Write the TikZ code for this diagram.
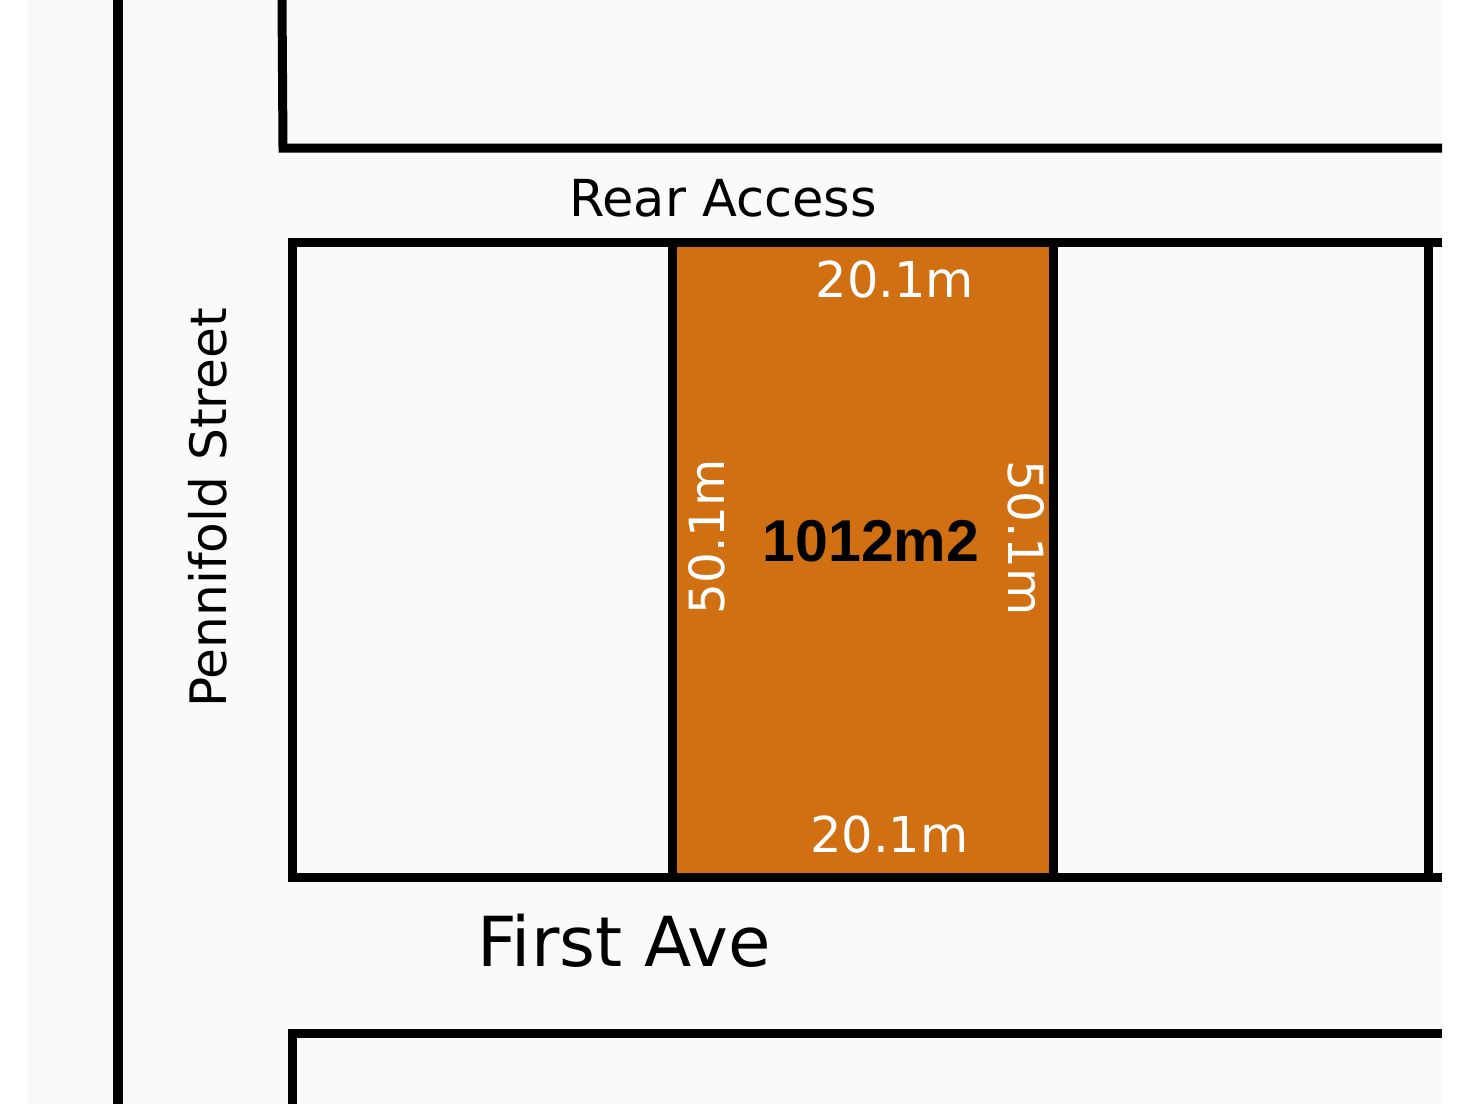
\documentclass[tikz,border=0pt]{standalone}
\usepackage{fontspec}
\newfontfamily\dv{DejaVu Sans}
\newfontfamily\lb{Liberation Sans}
\definecolor{plotorange}{RGB}{208,112,18}
\definecolor{paper}{RGB}{250,250,250}
\tikzset{
  wall/.style={line width=9pt, line join=miter, line cap=butt, black},
  street/.style={anchor=base, text=black, inner sep=0pt},
  dim/.style={anchor=base, text=white, inner sep=0pt, font=\dv\fontsize{49.5}{58}\selectfont},
}
\begin{document}
\begin{tikzpicture}[x=1pt,y=-1pt]
\useasboundingbox (0,0) rectangle (1472,1104);
\fill[white] (0,0) rectangle (1472,1104);
\fill[paper] (28,0) rectangle (1442,1104);
% plot fill
\fill[plotorange] (672,242) rectangle (1053,877);
% main street line
\draw[wall, line width=10pt] (118,0) -- (118,1104);
% top block
\draw[wall] (282,0) -- (283,148) -- (1442,148);
% middle block
\draw[wall] (1442,242) -- (292,242) -- (292,877) -- (1442,877);
\draw[wall] (1428,242) -- (1428,877);
\draw[wall] (672,242) -- (672,877);
\draw[wall] (1053,242) -- (1053,877);
% bottom block
\draw[wall] (292,1104) -- (292,1033) -- (1442,1033);
% labels
\node[street, font=\dv\fontsize{51}{60}\selectfont] (rear) at (723,216) {Rear Access};
\node[street, font=\dv\fontsize{69}{80}\selectfont] (first) at (624,966) {First Ave};
\node[street, rotate=90, font=\dv\fontsize{50.2}{60}\selectfont] (penn) at (226,508) {Pennifold Street};
\node[dim] (dtop) at (895,297) {20.1m};
\node[dim] (dbot) at (889.5,852) {20.1m};
\node[dim, font=\dv\fontsize{48.5}{58}\selectfont, rotate=90] (dleft) at (724,537) {50.1m};
\node[dim, font=\dv\fontsize{48.5}{58}\selectfont, rotate=-90] (dright) at (1008,538) {50.1m};
\node[street, font=\lb\bfseries\fontsize{59}{70}\selectfont] (area) at (871,561) {1012m2};
\end{tikzpicture}
\end{document}
